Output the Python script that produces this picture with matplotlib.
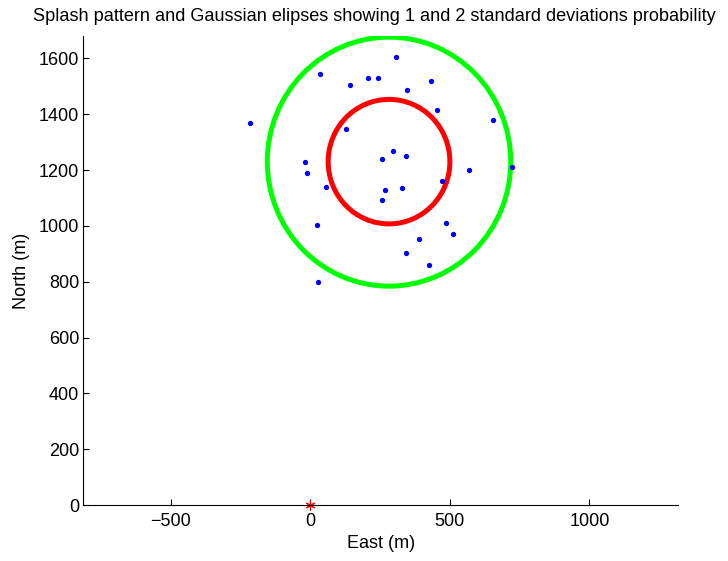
import matplotlib
matplotlib.use("Agg")
import matplotlib.pyplot as plt
from matplotlib.patches import Ellipse

plt.rcParams["font.family"] = ["Liberation Sans", "DejaVu Sans"]

# splash points (East, North) in metres
east = [-217, 35, 143, 208, 241, 307, 346, 431, 453, 127,
        654, -20, -11, 57, 256, 295, 342, 721, 568, 472,
        267, 329, 258, 25, 486, 512, 389, 344, 424, 29]
north = [1368, 1544, 1503, 1530, 1530, 1606, 1486, 1518, 1416, 1347,
         1379, 1230, 1189, 1138, 1238, 1268, 1249, 1211, 1200, 1160,
         1127, 1135, 1093, 1003, 1009, 971, 952, 901, 860, 798]

# mean and standard deviations of the splash
mean_e, mean_n = 282, 1230
sigma_e, sigma_n = 218, 223

# aim point
aim_e, aim_n = [0], [0]

fig = plt.figure(figsize=(7.28, 5.61), dpi=100)
ax = fig.add_axes([0.1144, 0.0998, 0.8173, 0.836])

# 1 and 2 standard deviation ellipses
ax.add_patch(Ellipse((mean_e, mean_n), 2 * 2 * sigma_e, 2 * 2 * sigma_n,
                     fill=False, edgecolor=(0, 1, 0), linewidth=3.6))
ax.add_patch(Ellipse((mean_e, mean_n), 2 * sigma_e, 2 * sigma_n,
                     fill=False, edgecolor=(1, 0, 0), linewidth=3.6))

ax.plot(east, north, linestyle="none", marker="o", markersize=2.8,
        color=(0, 0, 1))
ax.plot(aim_e, aim_n, linestyle="none", marker=(6, 2, 0), markersize=7,
        markeredgewidth=0.8, color=(1, 0, 0), clip_on=False)

ax.set_xlim(-813, 1318)
ax.set_ylim(0, 1680)
ax.set_xticks([-500, 0, 500, 1000])
ax.set_yticks(range(0, 1601, 200))

ax.spines["top"].set_visible(False)
ax.spines["right"].set_visible(False)
for s in ("left", "bottom"):
    ax.spines[s].set_linewidth(0.8)
ax.tick_params(direction="in", length=4, width=0.8, labelsize=13)
ax.tick_params(axis="x", pad=6)
ax.tick_params(axis="y", pad=3)

ax.set_xlabel("East (m)", fontsize=13, labelpad=3)
ax.set_ylabel("North (m)", fontsize=13, labelpad=6)
ax.set_title("Splash pattern and Gaussian elipses showing 1 and 2 standard deviations probability",
             fontsize=13.1, pad=11, x=0.49)

fig.savefig("out.png", dpi=100)
